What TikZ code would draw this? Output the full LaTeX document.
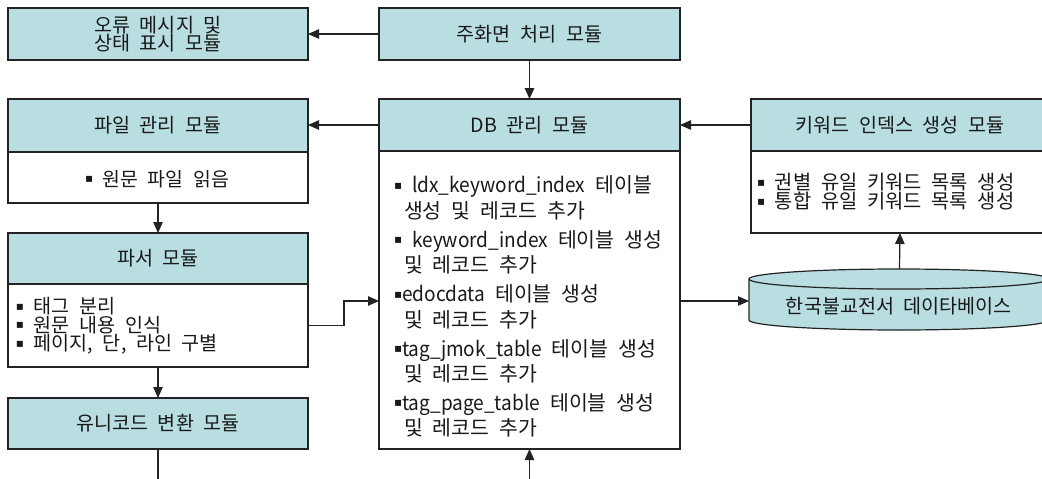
\documentclass[tikz,border=0pt]{standalone}
\usepackage{fontspec}
\usepackage{graphicx}
\setmainfont{Noto Sans CJK KR}[WordSpace=2.2]
\newfontfamily\dvfont{DejaVu Sans}
\usetikzlibrary{arrows.meta}
\definecolor{hc}{RGB}{184,222,225}
\definecolor{lc}{RGB}{35,35,35}
\definecolor{tc}{RGB}{25,25,25}
\newcommand\bul{\raisebox{3.6pt}{\dvfont\fontsize{12}{12}\selectfont ▪}}
\newcommand\lat[1]{\scalebox{0.93}[1]{#1}}
\tikzset{
  box/.style={draw=lc, line width=1.2pt, anchor=north west, inner sep=0pt, outer sep=0pt, text=tc},
  hdr/.style={box, fill=hc, align=center, font=\fontsize{19.6}{18.5}\selectfont},
  bodyb/.style={box, fill=white},
  txt/.style={inner sep=0pt, outer sep=0pt, text=tc, align=left},
  arr/.style={draw=lc, line width=1.2pt, -{Triangle[length=11pt,width=9.5pt]}},
  conn/.style={draw=lc, line width=1.2pt},
}
\begin{document}
\begin{tikzpicture}[x=1pt,y=-1pt]
\useasboundingbox (0,0) rectangle (1042,479);
% left column
\node[hdr, minimum width=300, minimum height=52] (err) at (8,8) {오류 메시지 및\\상태 표시 모듈};
\node[hdr, minimum width=300, minimum height=53] (fileh) at (8,99) {파일 관리 모듈};
\node[bodyb, minimum width=300, minimum height=51] (fileb) at (8,152) {};
\node[txt, font=\fontsize{19.4}{18.5}\selectfont] (filet) at (157,179) {\bul\ 원문 파일 읽음};
\node[hdr, minimum width=300, minimum height=51] (parh) at (8,233) {파서 모듈};
\node[bodyb, minimum width=300, minimum height=83] (parb) at (8,284) {};
\node[txt, anchor=west, font=\fontsize{19.6}{18.6}\selectfont] (part) at (16,326) {\bul\ 태그 분리\\\bul\ 원문 내용 인식\\\bul\ 페이지, 단, 라인 구별};
\node[hdr, minimum width=300, minimum height=51] (uni) at (8,398) {유니코드 변환 모듈};
% middle column
\node[hdr, minimum width=301, minimum height=52] (main) at (379,8) {주화면 처리 모듈};
\node[hdr, minimum width=301, minimum height=52] (dbh) at (379,99) {DB 관리 모듈};
\node[bodyb, minimum width=301, minimum height=298] (dbb) at (379,151) {};
\node[txt, anchor=north west, font=\fontsize{20.5}{25.4}\selectfont] (dbt) at (394,176) {%
\bul\ \lat{ldx\_keyword\_index} 테이블\\
\hspace*{10pt}생성 및 레코드 추가\\[3.6pt]
\bul\ \lat{keyword\_index} 테이블 생성\\
\hspace*{10pt}및 레코드 추가\\[3.6pt]
\bul\lat{edocdata} 테이블 생성\\
\hspace*{10pt}및 레코드 추가\\[3.6pt]
\bul\lat{tag\_jmok\_table} 테이블 생성\\
\hspace*{10pt}및 레코드 추가\\[3.6pt]
\bul\lat{tag\_page\_table} 테이블 생성\\
\hspace*{10pt}및 레코드 추가};
% right column
\node[hdr, minimum width=298, minimum height=52] (kwh) at (751,99) {키워드 인덱스 생성 모듈};
\node[bodyb, minimum width=298, minimum height=82] (kwb) at (751,151) {};
\node[txt, anchor=west, font=\fontsize{19.8}{18}\selectfont] (kwt) at (757,192) {\bul\ 권별 유일 키워드 목록 생성\\\bul\ 통합 유일 키워드 목록 생성};
% cylinder
\fill[hc] (749,279) -- (749,320) arc[start angle=180, end angle=0, x radius=150, y radius=10] -- (1049,279) arc[start angle=0, end angle=-180, x radius=150, y radius=10] -- cycle;
\draw[conn] (749,279) -- (749,320) arc[start angle=180, end angle=0, x radius=150, y radius=10] -- (1049,279);
\draw[conn] (899,279) ellipse [x radius=150, y radius=10];
\node[txt, font=\fontsize{19.6}{19.6}\selectfont] (kdb) at (899,306) {한국불교전서 데이타베이스};
\coordinate (cyltop) at (899.5,269);
\coordinate (cylleft) at (749,301);
\coordinate (dbin) at (379,301);
\coordinate (bot1) at (158,479);
\coordinate (bot2) at (529.5,479);
% connectors
\draw[arr] (main.west) -- (err.east);
\draw[arr] (main.south) -- (dbh.north);
\draw[arr] (dbh.west) -- (dbh.west -| fileh.east);
\draw[arr] (fileb.south) -- (parh.north);
\draw[arr] (parb.south) -- (uni.north);
\draw[conn] (uni.south) -- (bot1);
\draw[arr] (bot2) -- (dbb.south);
\draw[arr] (kwh.west) -- (kwh.west -| dbh.east);
\draw[arr] (cyltop) -- (kwb.south);
\draw[arr] (dbb.east |- cylleft) -- (cylleft);
\draw[arr] (parb.east) -- ++(36,0) |- (dbin);
\end{tikzpicture}
\end{document}
